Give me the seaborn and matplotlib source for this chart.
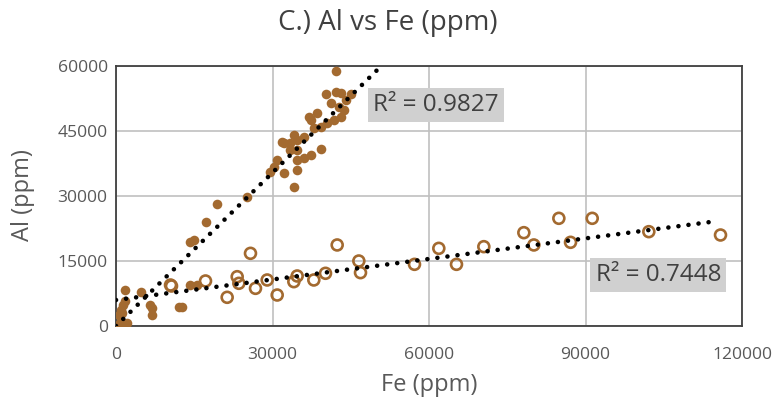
import numpy as np
import pandas as pd
import matplotlib
matplotlib.use("Agg")
import matplotlib.pyplot as plt
import seaborn as sns

# Filled series (Fe, Al in ppm)
fe_filled = [300, 800, 1500, 2200, 1000, 600, 900, 1300, 1700, 1200, 1820, 4700,
             6610, 6930, 6930, 12040, 12680, 14280, 15560, 14280, 14920, 17160,
             19400, 25020, 34090, 30250, 29610, 32170, 34730, 30890, 34730, 36010,
             37290, 39210, 33450, 34730, 32170, 31850, 33450, 34090, 34730, 36010,
             37930, 39210, 40490, 41770, 43040, 43680, 42720, 41130, 44000, 44960,
             43040, 42080, 40160, 42140, 38570, 37290, 36970]
al_filled = [200, 500, 300, 600, 1200, 2500, 3800, 4800, 5800, 3000, 8300, 7900,
             4850, 2540, 4070, 4460, 4460, 9460, 9460, 19460, 19850, 24080,
             28150, 29850, 32160, 36770, 35620, 35230, 36000, 38310, 38310, 38690,
             39460, 40770, 40610, 40610, 42150, 42530, 42150, 44080, 42920, 43690,
             45620, 46000, 46770, 47540, 48310, 49850, 50620, 51390, 52160, 53470,
             53700, 54080, 53470, 58850, 49080, 47540, 48310]

# Open-circle series
fe_open = [10450, 10640, 17160, 21310, 25780, 23230, 23550, 26740, 28980, 30900,
           34090, 34730, 37920, 40160, 42400, 46550, 46870, 57220, 61880, 65270,
           70510, 78180, 80100, 84890, 87130, 91290, 102140, 115880]
al_open = [9460, 9230, 10390, 6620, 16770, 11380, 9850, 8690, 10620, 7150,
           10230, 11540, 10620, 12160, 18700, 15000, 12310, 14230, 17920, 14230,
           18310, 21540, 18700, 24850, 19310, 24850, 21770, 21000]

# Linear trendlines as shown (slope, intercept, x range)
trend_filled = (1.18, 0.0, 0, 60000)
trend_open = (0.158, 6000.0, 0, 114300)

r2_labels = ["R² = 0.9827", "R² = 0.7448"]
title = "C.) Al vs Fe (ppm)"
x_label = "Fe (ppm)"
y_label = "Al (ppm)"
x_ticks = [0, 30000, 60000, 90000, 120000]
y_ticks = [0, 15000, 30000, 45000, 60000]

brown = "#a36a30"
txt = "#595959"

sns.set_theme(style="white")
plt.rcParams["font.family"] = ["Open Sans", "DejaVu Sans"]

fig = plt.figure(figsize=(7.76, 4.04), dpi=100)
ax = fig.add_axes([116 / 776, (404 - 326) / 404, (742 - 116) / 776, (326 - 66) / 404])

df_f = pd.DataFrame({"Fe": fe_filled, "Al": al_filled})
df_o = pd.DataFrame({"Fe": fe_open, "Al": al_open})

sns.scatterplot(data=df_f, x="Fe", y="Al", ax=ax, color=brown, s=48,
                linewidth=0, zorder=3)
sns.scatterplot(data=df_o, x="Fe", y="Al", ax=ax, facecolor="none",
                edgecolor=brown, s=62, linewidth=1.9, zorder=3)

for m, b, x0, x1 in [trend_filled, trend_open]:
    xx = np.array([x0, x1])
    ax.plot(xx, m * xx + b, color="black", lw=3.3,
            linestyle=(0, (0.01, 2.2)), dash_capstyle="round", zorder=4)

ax.set_xlim(0, 120000)
ax.set_ylim(0, 60000)
ax.set_xticks(x_ticks)
ax.set_yticks(y_ticks)
ax.set_xticklabels([str(t) for t in x_ticks])
ax.set_yticklabels([str(t) for t in y_ticks])
ax.grid(True, color="#c0c0c0", lw=1.2)
ax.set_axisbelow(True)
for s in ax.spines.values():
    s.set_color("#404040")
    s.set_linewidth(1.3)
ax.tick_params(axis="both", length=0, labelsize=12.6, colors=txt)
ax.tick_params(axis="y", pad=6)
ax.tick_params(axis="x", pad=15)
ax.set_xlabel(x_label, fontsize=17, color=txt)
ax.set_ylabel(y_label, fontsize=17, color=txt)
ax.xaxis.set_label_coords(0.5, (326 - 385) / 260)
ax.yaxis.set_label_coords((23 - 116) / 626, (326 - 195) / 260)
ax.xaxis.label.set_va("center")
ax.yaxis.label.set_va("center")

fig.text(0.5, 1 - 23 / 404, title, ha="center", va="center", fontsize=20,
         color="#404040")

box = dict(boxstyle="square,pad=0.22", fc="#d0d0d0", ec="none")
ax.text(49360, 51000, r2_labels[0], fontsize=17.5, color="#404040",
        ha="left", va="center", bbox=box, zorder=5)
ax.text(91920, 11770, r2_labels[1], fontsize=17.5, color="#404040",
        ha="left", va="center", bbox=box, zorder=5)

fig.savefig("out.png", dpi=100)
